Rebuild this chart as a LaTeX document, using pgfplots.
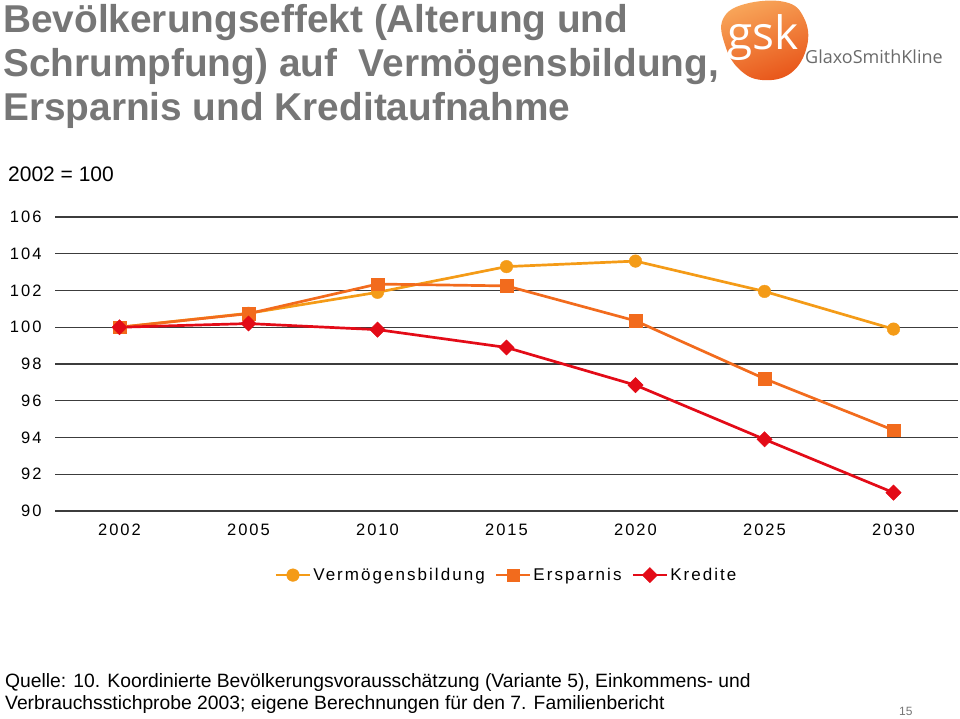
\documentclass[border=0pt]{standalone}
\usepackage{fontspec}
\setmainfont{Liberation Sans}
\newfontfamily\chartfont[LetterSpace=12]{Liberation Sans}
\newfontfamily\logofont{Open Sans}
\usepackage{pgfplots}
\pgfplotsset{compat=1.18}
\definecolor{titlegray}{HTML}{767676}
\definecolor{cVerm}{HTML}{F49B17}
\definecolor{cErsp}{HTML}{F26B1D}
\definecolor{cKred}{HTML}{E30B17}
\definecolor{gridc}{HTML}{3C3C3C}
\definecolor{logoA}{HTML}{F8A65A}
\definecolor{logoB}{HTML}{E8561A}
\begin{document}
\begin{tikzpicture}[x=1pt,y=1pt]
\useasboundingbox (0,0) rectangle (960,718);
% Title
\node[anchor=base west,inner sep=0,text=titlegray,font=\fontsize{38.8}{40}\selectfont\bfseries] at (3,685) {Bevölkerungseffekt (Alterung und};
\node[anchor=base west,inner sep=0,text=titlegray,font=\fontsize{38.8}{40}\selectfont\bfseries] at (3,641) {Schrumpfung) auf\ \ Vermögensbildung,};
\node[anchor=base west,inner sep=0,text=titlegray,font=\fontsize{38.8}{40}\selectfont\bfseries] at (3,597) {Ersparnis und Kreditaufnahme};
% Logo
\shade[top color=logoA,bottom color=logoB,shading angle=20] plot[smooth cycle,tension=0.7] coordinates {(723,699) (745,714) (785,716) (804,700) (807,672) (791,645) (762,638) (739,649) (725,673)};
\node[anchor=base west,inner sep=0,text=white,font=\logofont\fontsize{46}{46}\selectfont] at (727,668) {gsk};
\node[anchor=base west,inner sep=0,text=titlegray!90!black,font=\logofont\fontsize{18}{18}\selectfont] at (805,654) {GlaxoSmithKline};
% subtitle
\node[anchor=base west,inner sep=0,font=\fontsize{21}{21}\selectfont] at (8,536) {2002 = 100};
\begin{axis}[
  at={(55pt,207pt)}, anchor=south west,
  width=903pt, height=294pt, scale only axis,
  xmin=-0.5, xmax=6.5, ymin=90, ymax=106,
  xtick={0,...,6}, xticklabels={2002,2005,2010,2015,2020,2025,2030},
  ytick={90,92,...,106},
  /pgf/number format/assume math mode=true,
  axis line style={draw=none},
  major tick length=0pt,
  ymajorgrids, grid style={color=gridc,line width=1.3pt},
  ticklabel style={font=\chartfont\fontsize{16.5}{17}\selectfont},
  yticklabel style={xshift=-10pt},
  xticklabel style={yshift=-9pt},
  clip=false,
  legend style={at={(0.5,-0.218)},anchor=center,draw=none,legend columns=3,
    font=\chartfont\fontsize{17}{17}\selectfont,
    /tikz/every odd column/.append style={column sep=0pt},
    /tikz/every even column/.append style={column sep=8pt}},
  legend image code/.code={\draw[mark repeat=2,mark phase=2] plot coordinates {(0pt,0pt) (17pt,0pt) (34pt,0pt)};},
]
\addplot[color=cVerm,line width=2.7pt,mark=*,mark size=6.3pt,mark options={fill=cVerm,draw=cVerm,line width=0.4pt}] coordinates {(0,100) (1,100.76) (2,101.9) (3,103.3) (4,103.6) (5,101.95) (6,99.9)};
\addlegendentry{Vermögensbildung}
\addplot[color=cErsp,line width=2.7pt,mark=square*,mark size=6.3pt,mark options={fill=cErsp,draw=cErsp,line width=0.4pt}] coordinates {(0,100) (1,100.74) (2,102.35) (3,102.25) (4,100.35) (5,97.2) (6,94.4)};
\addlegendentry{Ersparnis}
\addplot[color=cKred,line width=2.7pt,mark=square*,mark size=5.4pt,mark options={fill=cKred,draw=cKred,line width=0.4pt,rotate=45}] coordinates {(0,100) (1,100.2) (2,99.87) (3,98.9) (4,96.85) (5,93.9) (6,91.0)};
\addlegendentry{Kredite}
\end{axis}
% Source
\node[anchor=base west,inner sep=0,font=\fontsize{19.3}{19}\selectfont] at (5,31) {Quelle: 10. Koordinierte Bevölkerungsvorausschätzung (Variante 5), Einkommens- und};
\node[anchor=base west,inner sep=0,font=\fontsize{19.3}{19}\selectfont] at (5,9) {Verbrauchsstichprobe 2003; eigene Berechnungen für den 7. Familienbericht};
\node[anchor=base west,inner sep=0,text=titlegray,font=\fontsize{12}{12}\selectfont] at (899,3) {15};
\end{tikzpicture}
\end{document}
